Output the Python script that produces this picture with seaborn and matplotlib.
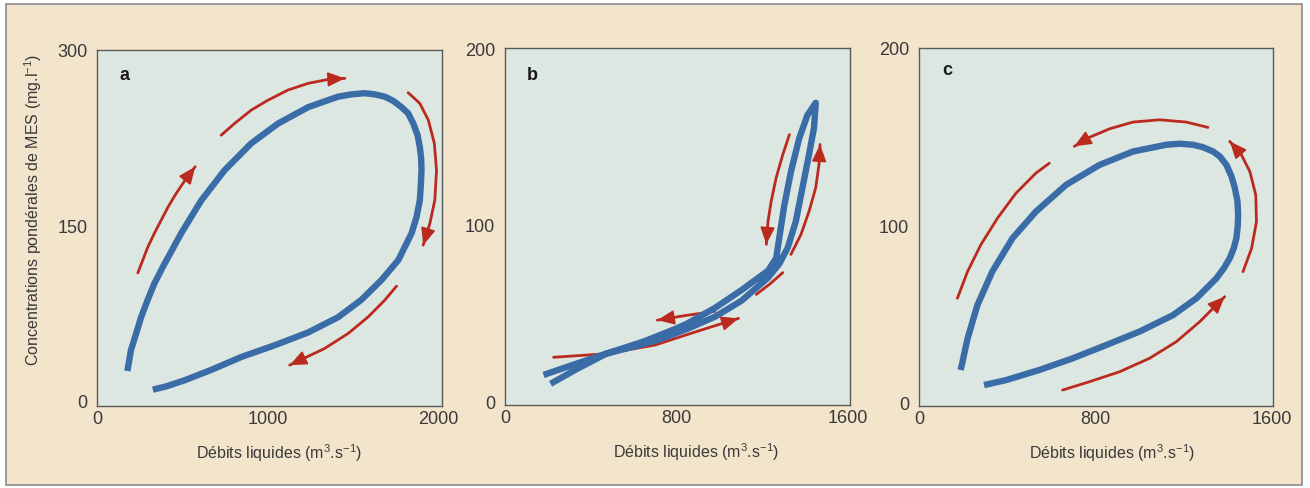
import numpy as np
import pandas as pd
import matplotlib
matplotlib.use("Agg")
import matplotlib.pyplot as plt
from matplotlib.patches import Rectangle
import seaborn as sns

# ---------------- data ----------------
# Panel a : hysteresis loop (discharge m3/s, SPM mg/l)
a_q = [178, 199, 229, 258, 297, 336, 385, 493, 610, 747, 903, 1060, 1236, 1411, 1490,
       1568, 1626, 1685, 1734, 1783, 1822, 1852, 1877, 1890, 1898, 1900, 1896, 1890,
       1871, 1842, 1764, 1666, 1548, 1411, 1236, 1040, 845, 670, 512, 410, 327]
a_c = [25, 43, 57, 71, 86, 100, 114, 143, 171, 197, 220, 237, 251, 260, 262,
       263, 262, 260, 256.5, 251, 245.7, 237, 227, 217, 207, 197, 184, 171,
       157, 143, 120, 103, 86, 71, 58, 47, 37, 26, 17, 12, 9]
# arrows panel a (x list, y list, has head)
a_arrows = [
    ([239, 268, 297, 336, 375, 418, 463, 518, 575],
     [109, 120, 131, 143, 154, 166, 177, 189, 200], True),
    ([727, 805, 903, 1001, 1118, 1236, 1353, 1451],
     [227, 237, 248.5, 257, 265.7, 271.4, 274.8, 275.7], True),
    ([1822, 1890, 1940, 1975, 1988, 1978, 1949, 1910],
     [263.4, 254.3, 240, 220, 197, 171.4, 151.4, 132.8], True),
    ([1754, 1685, 1588, 1470, 1333, 1128],
     [97.7, 85.7, 71.4, 57.1, 44.3, 30], True),
]

# Panel b : narrow loop
b_q = [180, 300, 472, 600, 721, 850, 982, 1105, 1229, 1282, 1321, 1359, 1390, 1421,
       1444, 1452, 1413, 1375, 1336, 1305, 1282, 1267, 1229, 1105, 982, 850, 795,
       650, 472, 330, 213]
b_c = [15, 20, 27, 31, 35, 41, 48, 57, 70, 78, 87, 102, 121, 140,
       155, 169, 162, 149, 130, 111, 93, 81, 74, 63, 53, 44, 41,
       34, 27, 18, 10]
b_arrows = [
    ([1329, 1298, 1267, 1244, 1229, 1221], [151, 139.7, 126.6, 113.4, 102, 88.9], True),
    ([1336, 1383, 1421, 1452, 1467, 1472], [83.2, 94.5, 107.7, 121, 134, 145.4], True),
    ([1298, 1236, 1174], [72.9, 66.3, 60.6], False),
    ([980, 842, 712], [51, 48.6, 46], True),
    ([227, 472, 703, 906, 1091], [25, 27, 32, 40, 47], True),
]

# Panel c
c_q = [189, 220, 265, 333, 424, 530, 667, 818, 970, 1121, 1182, 1242, 1288, 1333,
       1364, 1394, 1417, 1432, 1444, 1447, 1445, 1439, 1427, 1409, 1382, 1348, 1258,
       1152, 1000, 849, 697, 545, 394, 295]
c_c = [18.3, 36, 55, 74, 92.7, 107.7, 122.8, 134, 141.6, 145.4, 146, 145.4, 144, 141.6,
       138.8, 134, 127.5, 121, 113.4, 105.8, 99.3, 92.7, 87, 81.4, 75.7, 70, 58.8,
       49.3, 40, 32.4, 24.9, 18.3, 12.6, 9.8]
c_arrows = [
    ([174, 220, 280, 356, 439, 530, 591], [58.8, 73.8, 88.9, 104, 118, 129.4, 135], False),
    ([1310, 1212, 1091, 970, 864, 773, 704], [155.2, 158.2, 159.5, 158.2, 154.4, 149.6, 144.5], True),
    ([1469, 1508, 1530, 1527, 1500, 1462, 1409], [73.8, 87, 102, 117, 130.3, 139.7, 147.3], True),
    ([651, 773, 909, 1045, 1167, 1273, 1386], [7, 11.7, 17.3, 24.9, 34.3, 45.6, 59.7], True),
]

panels = ["a", "b", "c"]
x_ticks = [[0, 1000, 2000], [0, 800, 1600], [0, 800, 1600]]
y_ticks = [[0, 150, 300], [0, 100, 200], [0, 100, 200]]

# ---------------- style ----------------
sns.set_theme(style="white")
FONT = ["Liberation Sans Narrow", "Liberation Sans", "DejaVu Sans"]
plt.rcParams["font.family"] = FONT
plt.rcParams["mathtext.fontset"] = "custom"
plt.rcParams["mathtext.rm"] = "Liberation Sans"
plt.rcParams["mathtext.it"] = "Liberation Sans"

BEIGE = "#f3e4cc"
PANEL = "#dde7e2"
BLUE = "#3a6ca8"
RED = "#bb2a1f"
TXT = "#3a3a3a"

fig = plt.figure(figsize=(13.1, 4.89), dpi=100, facecolor="white")
fig.patches.append(Rectangle((6 / 1310, 1 - 486 / 489), (1302 - 6) / 1310, (486 - 5) / 489,
                             transform=fig.transFigure, facecolor=BEIGE,
                             edgecolor="#8a8a8a", lw=1.2, zorder=-10))

W, H = 1310, 489
boxes = [(97, 442, 51, 407), (505, 850, 49, 406), (919, 1273, 49, 407)]
xlims = [(0, 2020), (10, 1612), (0, 1605)]
ylims = [(-5, 300), (-2, 200), (-2, 200)]
curves = [(a_q, a_c), (b_q, b_c), (c_q, c_c)]
arrows = [a_arrows, b_arrows, c_arrows]
letter_pos = [(0.08, 0.93), (0.078, 0.927), (0.08, 0.94)]
xlabel_x = [0.528, 0.554, 0.545]

for i in range(3):
    l, r, t, b = boxes[i]
    ax = fig.add_axes([l / W, 1 - b / H, (r - l) / W, (b - t) / H])
    ax.set_facecolor(PANEL)
    # red arrows (beneath blue curve)
    for xs, ys, head in arrows[i]:
        d = pd.DataFrame({"q": xs, "c": ys})
        sns.lineplot(data=d, x="q", y="c", sort=False, estimator=None, ax=ax,
                     color=RED, lw=2.0, zorder=2, solid_joinstyle="round")
        if head:
            ax.annotate("", xy=(xs[-1], ys[-1]), xytext=(xs[-2], ys[-2]),
                        arrowprops=dict(arrowstyle="-|>,head_length=0.75,head_width=0.32",
                                        color=RED, lw=1.2, shrinkA=0, shrinkB=0,
                                        mutation_scale=14),
                        zorder=2)
    qx, cy = curves[i]
    d = pd.DataFrame({"q": qx, "c": cy})
    sns.lineplot(data=d, x="q", y="c", sort=False, estimator=None, ax=ax,
                 color=BLUE, lw=4.6, zorder=3, solid_capstyle="butt",
                 solid_joinstyle="round")
    ax.set_xlim(*xlims[i])
    ax.set_ylim(*ylims[i])
    ax.set_xticks(x_ticks[i])
    ax.set_yticks(y_ticks[i])
    ax.tick_params(length=0, labelsize=13, labelcolor=TXT)
    ax.tick_params(axis="y", pad=7)
    ax.tick_params(axis="x", pad=3)
    for s in ax.spines.values():
        s.set_color("#5a5a5a")
        s.set_linewidth(1.0)
    ax.set_xlabel(r"Débits liquides (m$^{3}$.s$^{-1}$)", fontsize=11.5, color=TXT, labelpad=6)
    ax.xaxis.set_label_coords(xlabel_x[i], -0.1)
    ax.set_ylabel("")
    ax.grid(False)
    ax.text(letter_pos[i][0], letter_pos[i][1], panels[i], transform=ax.transAxes,
            fontsize=13, fontweight="bold", color="#1a1a1a", ha="center", va="center")

fig.text(33 / W, 1 - 210 / H, r"Concentrations pondérales de MES (mg.l$^{-1}$)",
         rotation=90, ha="center", va="center", fontsize=11.5, color=TXT)

fig.savefig("out.png", dpi=100, facecolor=fig.get_facecolor())
